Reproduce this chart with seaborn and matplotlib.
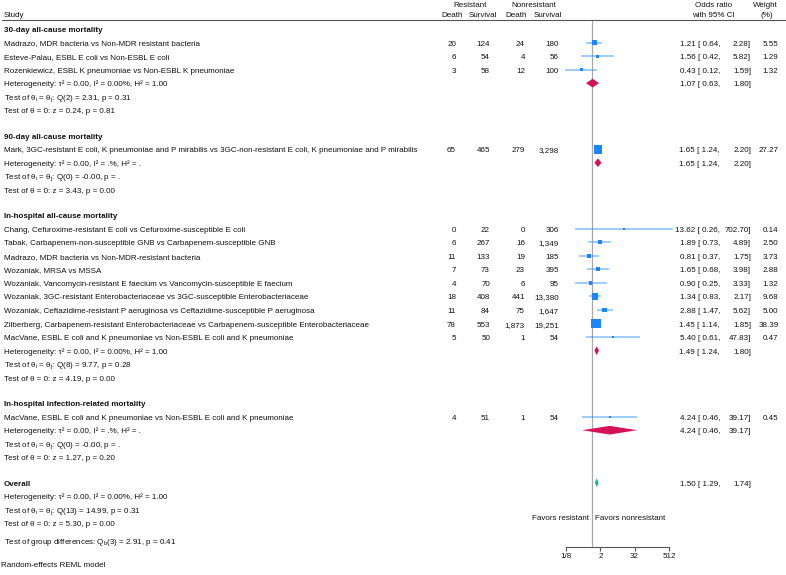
import numpy as np
import pandas as pd
import matplotlib
matplotlib.use("Agg")
import matplotlib.pyplot as plt
import matplotlib.transforms as mtransforms
from matplotlib.lines import Line2D
import seaborn as sns

# ---------------- data ----------------
group_names = ["30-day all-cause mortality", "90-day all-cause mortality",
               "In-hospital all-cause mortality", "In-hospital infection-related mortality"]
study_labels = [
    "Madrazo, MDR bacteria vs Non-MDR resistant bacteria",
    "Esteve-Palau, ESBL E coli vs Non-ESBL E coli",
    "Rozenkiewicz, ESBL K pneumoniae vs Non-ESBL K pneumoniae",
    "Mark, 3GC-resistant E coli, K pneumoniae and P mirabilis vs 3GC-non-resistant E coli, K pneumoniae and P mirabilis",
    "Chang, Cefuroxime-resistant E coli vs Cefuroxime-susceptible E coli",
    "Tabak, Carbapenem-non-susceptible GNB vs Carbapenem-susceptible GNB",
    "Madrazo, MDR bacteria vs Non-MDR-resistant bacteria",
    "Wozaniak, MRSA vs MSSA",
    "Wozaniak, Vancomycin-resistant E faecium vs Vancomycin-susceptible E faecium",
    "Wozaniak, 3GC-resistant Enterobacteriaceae vs 3GC-susceptible Enterobacteriaceae",
    "Wozaniak, Ceftazidime-resistant P aeruginosa vs Ceftazidime-susceptible P aeruginosa",
    "Zilberberg, Carbapenem-resistant Enterobacteriaceae vs Carbapenem-susceptible Enterobacteriaceae",
    "MacVane, ESBL E coli and K pneumoniae vs Non-ESBL E coli and K pneumoniae",
    "MacVane, ESBL E coli and K pneumoniae vs Non-ESBL E coli and K pneumoniae",
]
study_group = [0, 0, 0, 1, 2, 2, 2, 2, 2, 2, 2, 2, 2, 3]
res_death = [20, 6, 3, 65, 0, 6, 11, 7, 4, 18, 11, 78, 5, 4]
res_surv = [124, 54, 58, 465, 22, 267, 133, 73, 70, 408, 84, 553, 50, 51]
non_death = [24, 4, 12, 279, 0, 16, 19, 23, 6, 441, 75, 1873, 1, 1]
non_surv = [180, 56, 100, 3298, 306, 1349, 185, 395, 95, 13380, 1647, 19251, 54, 54]
odds = [1.21, 1.56, 0.43, 1.65, 13.62, 1.89, 0.81, 1.65, 0.90, 1.34, 2.88, 1.45, 5.40, 4.24]
ci_low = [0.64, 0.42, 0.12, 1.24, 0.26, 0.73, 0.37, 0.68, 0.25, 0.83, 1.47, 1.14, 0.61, 0.46]
ci_high = [2.28, 5.82, 1.59, 2.20, 702.70, 4.89, 1.75, 3.98, 3.33, 2.17, 5.62, 1.85, 47.83, 39.17]
weight = [5.55, 1.29, 1.32, 27.27, 0.14, 2.50, 3.73, 2.88, 1.32, 9.68, 5.00, 38.39, 0.47, 0.45]

sub_or = [1.07, 1.65, 1.49, 4.24]
sub_low = [0.63, 1.24, 1.24, 0.46]
sub_high = [1.80, 2.20, 1.80, 39.17]
sub_het = ["Heterogeneity: τ² = 0.00, I² = 0.00%, H² = 1.00",
           "Heterogeneity: τ² = 0.00, I² = .%, H² = .",
           "Heterogeneity: τ² = 0.00, I² = 0.00%, H² = 1.00",
           "Heterogeneity: τ² = 0.00, I² = .%, H² = ."]
sub_q = ["Test of θ$_i$ = θ$_j$: Q(2) = 2.31, p = 0.31",
         "Test of θ$_i$ = θ$_j$: Q(0) = -0.00, p = .",
         "Test of θ$_i$ = θ$_j$: Q(8) = 9.77, p = 0.28",
         "Test of θ$_i$ = θ$_j$: Q(0) = -0.00, p = ."]
sub_z = ["Test of θ = 0: z = 0.24, p = 0.81",
         "Test of θ = 0: z = 3.43, p = 0.00",
         "Test of θ = 0: z = 4.19, p = 0.00",
         "Test of θ = 0: z = 1.27, p = 0.20"]
overall_or, overall_low, overall_high = 1.50, 1.29, 1.74
overall_het = "Heterogeneity: τ² = 0.00, I² = 0.00%, H² = 1.00"
overall_q = "Test of θ$_i$ = θ$_j$: Q(13) = 14.99, p = 0.31"
overall_z = "Test of θ = 0: z = 5.30, p = 0.00"
group_diff = "Test of group differences: Q$_b$(3) = 2.91, p = 0.41"
tick_vals = [1/8, 2, 32, 512]
tick_labels = ["1/8", "2", "32", "512"]

# ---------------- style ----------------
sns.set_theme(style="white")
plt.rcParams["font.family"] = ["Liberation Sans", "DejaVu Sans"]
plt.rcParams["mathtext.fontset"] = "custom"
plt.rcParams["mathtext.rm"] = "Liberation Sans"
plt.rcParams["mathtext.it"] = "Liberation Sans:italic"
plt.rcParams["mathtext.bf"] = "Liberation Sans:bold"
plt.rcParams["mathtext.default"] = "regular"

W, H = 786, 575
FS = 5.75
TXT = "#111111"
BLUE = "#1a85ff"
RED = "#d41159"
GREEN = "#12b886"

fig = plt.figure(figsize=(W / 100, H / 100), dpi=100)

# forest panel geometry (pixels)
px_per_unit = 8.583   # pixels per log2 unit
x_one = 591.75        # pixel of OR = 1
ax_l, ax_r = 555, 690
ax_t, ax_b = 20, 547
row_px = 13.54
row0_px = 29
ax = fig.add_axes([ax_l / W, 1 - ax_b / H, (ax_r - ax_l) / W, (ax_b - ax_t) / H])
ax.set_xscale("log", base=2)
ax.set_xlim(2 ** ((ax_l - x_one) / px_per_unit), 2 ** ((ax_r - x_one) / px_per_unit))
ax.set_ylim((ax_b - row0_px) / row_px, (ax_t - row0_px) / row_px)
ax.patch.set_alpha(0)

# ---------------- row layout ----------------
GAP = 1.877
study_row = [0.0] * len(study_labels)
header_row, het_row, q_row, z_row = [], [], [], []
y = 0.0
for g in range(len(group_names)):
    header_row.append(y)
    y += 1
    for i, sg in enumerate(study_group):
        if sg == g:
            study_row[i] = y
            y += 1
    het_row.append(y)
    q_row.append(y + 1)
    z_row.append(y + 2)
    y = y + 2 + GAP
overall_row = y

# ---------------- marks ----------------
df = pd.DataFrame({"odds": odds, "low": ci_low, "high": ci_high,
                   "weight": weight, "row": study_row})
df["msize"] = df["weight"] ** (2 / 3)
ax.hlines(df["row"], df["low"], df["high"], color=BLUE, alpha=0.45, lw=1.3, zorder=2)
sns.scatterplot(data=df, x="odds", y="row", size="msize", sizes=(0, 94),
                size_norm=(0, 100 ** (2 / 3)), marker="s", color=BLUE, linewidth=0,
                legend=False, ax=ax, zorder=3)

hh = 0.32
for g in range(len(group_names)):
    r = het_row[g]
    ax.fill([sub_low[g], sub_or[g], sub_high[g], sub_or[g]], [r, r - hh, r, r + hh],
            color=RED, lw=0, zorder=3)
ax.fill([overall_low, overall_or, overall_high, overall_or],
        [overall_row, overall_row - hh, overall_row, overall_row + hh],
        color=GREEN, lw=0, zorder=3)

ax.axvline(1, color="#a8a8a8", lw=0.9, zorder=1)

for s in ["left", "top", "right"]:
    ax.spines[s].set_visible(False)
ax.spines["bottom"].set_bounds(tick_vals[0], tick_vals[-1])
ax.spines["bottom"].set_color("#555555")
ax.spines["bottom"].set_linewidth(0.8)
ax.set_yticks([])
ax.set_xticks(tick_vals)
ax.set_xticklabels(tick_labels)
ax.minorticks_off()
ax.tick_params(axis="x", length=3, width=0.8, color="#555555", labelsize=FS,
               labelcolor=TXT, pad=1.5, bottom=True)
ax.set_xlabel("")
ax.set_ylabel("")

# ---------------- text ----------------
BASE = 3.0 / row_px   # baseline offset below visual centre (rows)
tr = mtransforms.blended_transform_factory(fig.transFigure, ax.transData)


def tx(xpx, yrow, s, ha="left", bold=False):
    fig.text(xpx / W, yrow + BASE, s, transform=tr, ha=ha, va="baseline", fontsize=FS,
             color=TXT, fontweight="bold" if bold else "normal")


def ftx(xpx, ypx, s, ha="left"):
    fig.text(xpx / W, 1 - (ypx + 3.0) / H, s, ha=ha, va="baseline", fontsize=FS, color=TXT)


# headers
ftx(4, 14, "Study")
ftx(470.5, 4, "Resistant", "center")
ftx(533.5, 4, "Nonresistant", "center")
ftx(452.5, 14, "Death", "center")
ftx(483, 14, "Survival", "center")
ftx(516, 14, "Death", "center")
ftx(548, 14, "Survival", "center")
ftx(714, 4, "Odds ratio", "center")
ftx(713, 14, "with 95% CI", "center")
ftx(765, 4, "Weight", "center")
ftx(766.5, 14, "(%)", "center")
fig.add_artist(Line2D([2 / W, 1.0], [1 - 19.5 / H, 1 - 19.5 / H], color="#555555", lw=0.8))

col_x = [456, 490, 525, 559]
for g in range(len(group_names)):
    tx(4, header_row[g], group_names[g], bold=True)
    tx(4, het_row[g], sub_het[g])
    tx(4, q_row[g], sub_q[g])
    tx(4, z_row[g], sub_z[g])
    tx(720, het_row[g], f"{sub_or[g]:.2f} [ {sub_low[g]:.2f},", "right")
    tx(751, het_row[g], f"{sub_high[g]:.2f}]", "right")

for i in range(len(study_labels)):
    r = study_row[i]
    tx(4, r, study_labels[i])
    for cx, v in zip(col_x, [res_death[i], res_surv[i], non_death[i], non_surv[i]]):
        tx(cx, r, f"{v:,}", "right")
    tx(720, r, f"{odds[i]:.2f} [ {ci_low[i]:.2f},", "right")
    tx(751, r, f"{ci_high[i]:.2f}]", "right")
    tx(778.5, r, f"{weight[i]:.2f}", "right")

tx(4, overall_row, "Overall", bold=True)
tx(4, overall_row + 1, overall_het)
tx(4, overall_row + 2, overall_q)
tx(4, overall_row + 3, overall_z)
tx(4, overall_row + 4.33, group_diff)
tx(720, overall_row, f"{overall_or:.2f} [ {overall_low:.2f},", "right")
tx(751, overall_row, f"{overall_high:.2f}]", "right")
tx(589.5, overall_row + 2.51, "Favors resistant", "right")
tx(595, overall_row + 2.51, "Favors nonresistant", "left")

ftx(1, 564, "Random-effects REML model")

fig.savefig("out.png", dpi=100)
